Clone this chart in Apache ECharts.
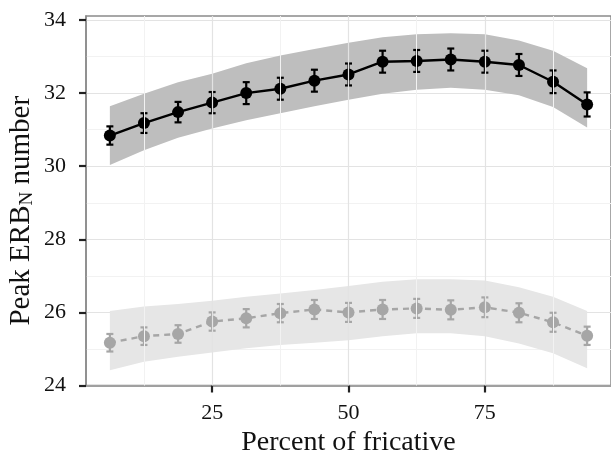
<!DOCTYPE html>
<html>
<head>
<meta charset="utf-8">
<script src="https://cdn.jsdelivr.net/npm/echarts@6/dist/echarts.min.js"></script>
<style>
    html, body { margin: 0; padding: 0; background: #fff; }
    #main { width: 611px; height: 453px; }
</style>
</head>
<body>
<div id="main"></div>
<script>
var xVals = [6.25, 12.5, 18.75, 25, 31.25, 37.5, 43.75, 50, 56.25, 62.5, 68.75, 75, 81.25, 87.5, 93.75];

// black (solid) series
var blackMean = [30.84, 31.18, 31.48, 31.74, 32.00, 32.12, 32.34, 32.51, 32.86, 32.88, 32.92, 32.86, 32.77, 32.31, 31.69];
var blackErr = [0.25, 0.27, 0.28, 0.29, 0.30, 0.30, 0.30, 0.30, 0.30, 0.30, 0.30, 0.30, 0.30, 0.31, 0.33];
var blackUpper = [31.64, 31.98, 32.30, 32.53, 32.82, 33.03, 33.21, 33.38, 33.53, 33.61, 33.64, 33.61, 33.44, 33.16, 32.68];
var blackLower = [30.03, 30.44, 30.78, 31.03, 31.26, 31.45, 31.64, 31.82, 31.98, 32.09, 32.15, 32.09, 31.94, 31.62, 31.06];

// grey (dashed) series
var greyMean = [25.17, 25.35, 25.41, 25.75, 25.84, 25.98, 26.08, 26.00, 26.08, 26.11, 26.07, 26.14, 25.99, 25.73, 25.36];
var greyErr = [0.24, 0.24, 0.24, 0.25, 0.25, 0.25, 0.26, 0.26, 0.26, 0.26, 0.26, 0.27, 0.26, 0.26, 0.25];
var greyUpper = [26.04, 26.16, 26.23, 26.32, 26.43, 26.52, 26.61, 26.72, 26.84, 26.91, 26.91, 26.87, 26.69, 26.43, 26.04];
var greyLower = [24.42, 24.65, 24.79, 24.90, 25.02, 25.11, 25.17, 25.24, 25.35, 25.43, 25.43, 25.35, 25.15, 24.88, 24.47];

var xMajor = [25, 50, 75];
var xMinor = [12.5, 37.5, 62.5, 87.5];
var yTicks = [24, 26, 28, 30, 32, 34];

var FONT = 'Liberation Serif';

function pairs(vals) {
    return xVals.map(function (x, i) { return [x, vals[i]]; });
}
function bandRows(low, up) {
    return xVals.map(function (x, i) { return [x, low[i], up[i]]; });
}
function errRows(mean, err) {
    return xVals.map(function (x, i) { return [x, mean[i] - err[i], mean[i] + err[i]]; });
}
// whole ribbon drawn once, on the first item
function ribbon(color) {
    return function (params, api) {
        if (params.dataIndexInside !== 0) return null;
        var n = params.dataInsideLength;
        var top = [], bottom = [];
        for (var i = 0; i < n; i++) {
            var x = api.value(0, i);
            top.push(api.coord([x, api.value(2, i)]));
            bottom.unshift(api.coord([x, api.value(1, i)]));
        }
        return {
            type: 'polygon',
            shape: { points: top.concat(bottom) },
            style: { fill: color },
            silent: true
        };
    };
}
function errorBar(color) {
    return function (params, api) {
        var x = api.value(0);
        var lo = api.coord([x, api.value(1)]);
        var hi = api.coord([x, api.value(2)]);
        var w = 3.5;
        var style = { stroke: color, lineWidth: 2.2 };
        return {
            type: 'group',
            children: [
                { type: 'line', shape: { x1: lo[0], y1: lo[1], x2: hi[0], y2: hi[1] }, style: style },
                { type: 'line', shape: { x1: lo[0] - w, y1: lo[1], x2: lo[0] + w, y2: lo[1] }, style: style },
                { type: 'line', shape: { x1: hi[0] - w, y1: hi[1], x2: hi[0] + w, y2: hi[1] }, style: style }
            ]
        };
    };
}

var gridLines = xMinor.map(function (v) {
    return { xAxis: v, lineStyle: { color: '#f2f2f2', width: 1, type: 'solid' } };
}).concat(xMajor.map(function (v) {
    return { xAxis: v, lineStyle: { color: '#e3e3e3', width: 1.2, type: 'solid' } };
}));

var myChart = echarts.init(document.getElementById('main'));
var option = {
    animation: false,
    backgroundColor: '#fff',
    textStyle: { fontFamily: FONT },
    grid: {
        left: 86, right: 0, top: 16, bottom: 67.5,
        outerBoundsMode: 'none',
        containLabel: false,
        show: true, borderColor: '#8a8a8a', borderWidth: 1.5, backgroundColor: 'transparent'
    },
    xAxis: {
        type: 'value',
        min: 1.875, max: 98.125,
        name: 'Percent of fricative',
        nameLocation: 'middle',
        nameGap: 43,
        nameMoveOverlap: false,
        nameTextStyle: { fontFamily: FONT, fontSize: 28, color: '#111' },
        axisLine: { show: true, lineStyle: { color: '#8a8a8a', width: 1.5 } },
        axisTick: { show: true, customValues: xMajor, length: 7, lineStyle: { color: '#222', width: 2.2 } },
        axisLabel: { customValues: xMajor, fontFamily: FONT, fontSize: 22, color: '#111', margin: 17 },
        splitLine: { show: false }
    },
    yAxis: {
        type: 'value',
        min: 24, max: 34.11,
        interval: 2,
        name: 'Peak ERB{sub|N} number',
        nameLocation: 'middle',
        nameGap: 49,
        nameMoveOverlap: false,
        nameTextStyle: {
            fontFamily: FONT, fontSize: 29, color: '#111',
            padding: [0, 20, 0, 0],
            rich: {
                sub: { fontFamily: FONT, fontSize: 19, color: '#111', verticalAlign: 'bottom', padding: [12, 0, 0, 0] }
            }
        },
        axisLine: { show: true, lineStyle: { color: '#8a8a8a', width: 1.5 } },
        axisTick: { show: true, customValues: yTicks, length: 7, lineStyle: { color: '#222', width: 2.2 } },
        axisLabel: { customValues: yTicks, fontFamily: FONT, fontSize: 22, color: '#111', margin: 20 },
        splitLine: { show: true, lineStyle: { color: '#e3e3e3', width: 1.2 } },
        minorTick: { show: false, splitNumber: 2 },
        minorSplitLine: { show: true, lineStyle: { color: '#f2f2f2', width: 1 } }
    },
    series: [
        {
            name: 'greyBand', type: 'custom', z: 1, silent: true,
            data: bandRows(greyLower, greyUpper),
            encode: { x: 0, y: [1, 2] },
            renderItem: ribbon('#e6e6e6'),
            markLine: { silent: true, symbol: 'none', label: { show: false }, data: gridLines }
        },
        {
            name: 'blackBand', type: 'custom', z: 1, silent: true,
            data: bandRows(blackLower, blackUpper),
            encode: { x: 0, y: [1, 2] },
            renderItem: ribbon('#bebebe')
        },
        {
            name: 'greyErr', type: 'custom', z: 3,
            data: errRows(greyMean, greyErr),
            encode: { x: 0, y: [1, 2] },
            renderItem: errorBar('#a6a6a6')
        },
        {
            name: 'blackErr', type: 'custom', z: 3,
            data: errRows(blackMean, blackErr),
            encode: { x: 0, y: [1, 2] },
            renderItem: errorBar('#000')
        },
        {
            name: 'grey', type: 'line', z: 4,
            data: pairs(greyMean),
            symbol: 'circle', symbolSize: 12, showSymbol: true,
            itemStyle: { color: '#a6a6a6' },
            lineStyle: { color: '#a6a6a6', width: 2.4, type: [6, 5] }
        },
        {
            name: 'black', type: 'line', z: 4,
            data: pairs(blackMean),
            symbol: 'circle', symbolSize: 12, showSymbol: true,
            itemStyle: { color: '#000' },
            lineStyle: { color: '#000', width: 2.4 }
        }
    ]
};
myChart.setOption(option, true);
</script>
</body>
</html>
